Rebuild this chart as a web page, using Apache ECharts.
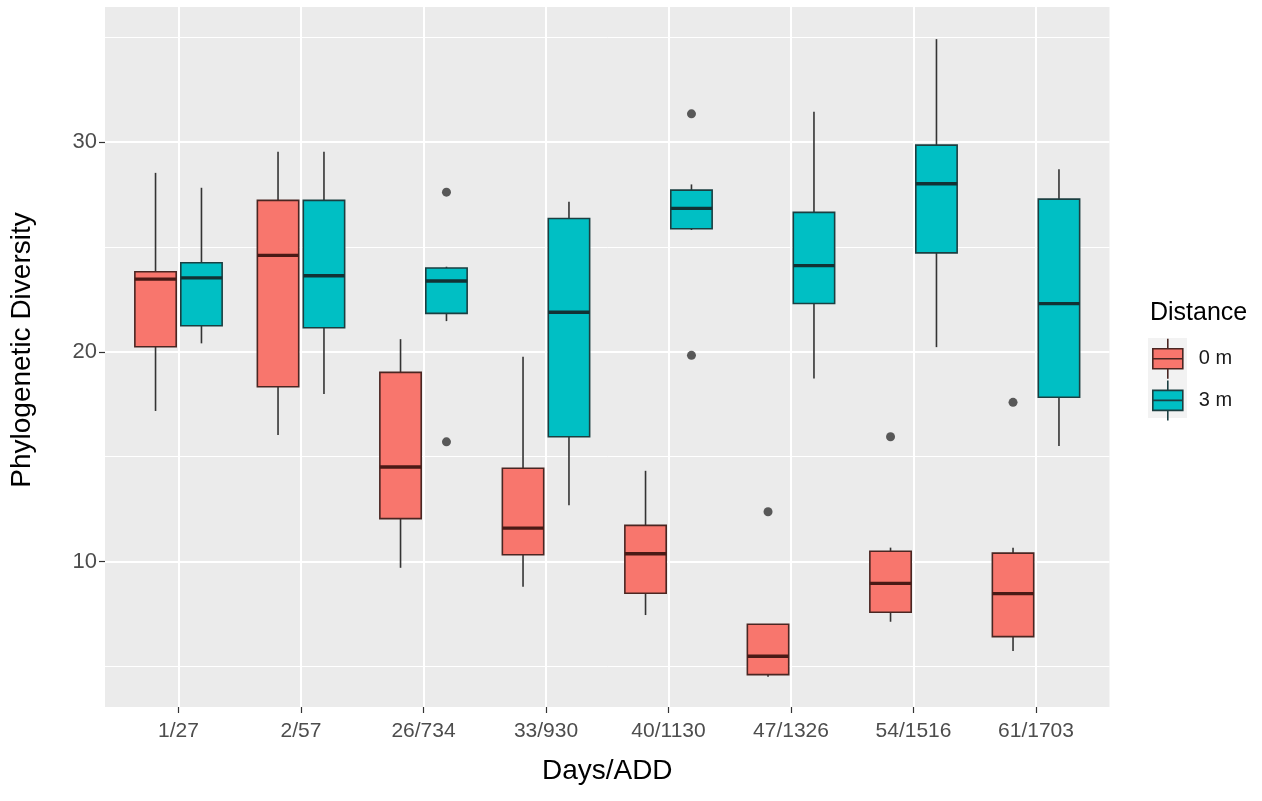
<!DOCTYPE html>
<html>
<head>
<meta charset="utf-8">
<script src="https://cdn.jsdelivr.net/npm/echarts@6/dist/echarts.min.js"></script>
<style>
html,body{margin:0;padding:0;background:#ffffff;}
#chart{width:1262px;height:801px;}
</style>
</head>
<body>
<div id="chart"></div>
<script>
// ---------- data ----------
const categories = ['1/27', '2/57', '26/734', '33/930', '40/1130', '47/1326', '54/1516', '61/1703'];
const seriesNames = ['0 m', '3 m'];
// each entry: [lower whisker, Q1, median, Q3, upper whisker]
const box0m = [
  [17.18, 20.24, 23.46, 23.81, 28.52],
  [16.03, 18.33, 24.59, 27.21, 29.52],
  [9.71, 12.05, 14.51, 19.02, 20.60],
  [8.81, 10.33, 11.60, 14.45, 19.76],
  [7.46, 8.50, 10.38, 11.73, 14.33],
  [4.52, 4.62, 5.50, 7.02, 7.02],
  [7.14, 7.59, 8.97, 10.50, 10.67],
  [5.75, 6.43, 8.48, 10.41, 10.67]
];
const box3m = [
  [20.40, 21.24, 23.52, 24.24, 27.81],
  [17.99, 21.14, 23.62, 27.21, 29.52],
  [21.46, 21.83, 23.37, 23.99, 24.05],
  [12.69, 15.95, 21.88, 26.35, 27.14],
  [25.80, 25.86, 26.83, 27.70, 27.97],
  [18.73, 22.30, 24.10, 26.64, 31.43],
  [20.22, 24.71, 28.00, 29.84, 34.89],
  [15.51, 17.83, 22.29, 27.27, 28.69]
];
// outliers: [category index, value]
const outliers0m = [[5, 12.38], [6, 15.95], [7, 17.59]];
const outliers3m = [[2, 27.60], [2, 15.71], [4, 31.33], [4, 19.83]];
const yMajorTicks = [10, 20, 30];
const yMinorTicks = [5, 15, 25, 35];
const yRange = [3.08, 36.42];

// ---------- styling / layout ----------
const FONT = '"Liberation Sans", Arial, Helvetica, sans-serif';
const fills = ['#F8766D', '#00BFC4'];
const strokes = ['#4a2622', '#1b3f41'];
const medians = ['#4a1a16', '#123234'];
const WHISKER = '#333333';
const DODGE = 0.1875;      // ggplot position_dodge(0.75) offset
const BOX_W = 0.3375;      // box width in category units
const catIdx = categories.map((c, i) => i);
const KEY_ICON = 'path://M15,0L15,10M0,10L30,10L30,30L0,30ZM0,20L30,20M15,30L15,40';

function makeRender(k) {
  return function (params, api) {
    const x = api.value(0);
    const lo = api.value(1), q1 = api.value(2), med = api.value(3), q3 = api.value(4), hi = api.value(5);
    const w = api.size([BOX_W, 0])[0];
    const pHi = api.coord([x, hi]);
    const pQ3 = api.coord([x, q3]);
    const pMed = api.coord([x, med]);
    const pQ1 = api.coord([x, q1]);
    const pLo = api.coord([x, lo]);
    const cx = pMed[0];
    return {
      type: 'group',
      children: [
        { type: 'line', shape: { x1: cx, y1: pHi[1], x2: cx, y2: pQ3[1] }, style: { stroke: WHISKER, lineWidth: 1.6 } },
        { type: 'line', shape: { x1: cx, y1: pQ1[1], x2: cx, y2: pLo[1] }, style: { stroke: WHISKER, lineWidth: 1.6 } },
        { type: 'rect', shape: { x: cx - w / 2, y: pQ3[1], width: w, height: pQ1[1] - pQ3[1] },
          style: { fill: fills[k], stroke: strokes[k], lineWidth: 1.6 } },
        { type: 'line', shape: { x1: cx - w / 2, y1: pMed[1], x2: cx + w / 2, y2: pMed[1] },
          style: { stroke: medians[k], lineWidth: 3.4 } }
      ]
    };
  };
}

const boxData = [box0m, box3m].map((arr, k) =>
  arr.map((b, i) => [i + (k === 0 ? -DODGE : DODGE)].concat(b)));
const outData = [outliers0m, outliers3m].map((arr, k) =>
  arr.map(o => [o[0] + (k === 0 ? -DODGE : DODGE), o[1]]));

const chart = echarts.init(document.getElementById('chart'), null, { renderer: 'canvas' });
chart.setOption({
  animation: false,
  backgroundColor: '#ffffff',
  textStyle: { fontFamily: FONT },
  grid: { left: 104, right: 152.5, top: 7, bottom: 94, show: true, backgroundColor: '#EBEBEB', borderWidth: 0 },
  title: {
    text: 'Distance', left: 1150, top: 301, padding: 0,
    textStyle: { fontSize: 25, fontWeight: 'normal', color: '#000000', fontFamily: FONT }
  },
  legend: {
    orient: 'vertical', left: 1152, top: 338, padding: 0,
    itemWidth: 30, itemHeight: 40, itemGap: 0,
    textStyle: { fontSize: 20, color: '#1a1a1a', fontFamily: FONT, padding: [0, 0, 0, 11] },
    data: seriesNames.map((n, k) => ({
      name: n, icon: KEY_ICON,
      itemStyle: { color: fills[k], borderColor: strokes[k], borderWidth: 1.6 }
    }))
  },
  graphic: [
    { type: 'rect', left: 1148, top: 338, shape: { width: 39, height: 40 }, style: { fill: '#F2F2F2' }, z: -10, silent: true },
    { type: 'rect', left: 1148, top: 378, shape: { width: 39, height: 40 }, style: { fill: '#F2F2F2' }, z: -10, silent: true }
  ],
  xAxis: [{
    type: 'value', min: -0.6, max: 7.6,
    axisLine: { show: false, onZero: false },
    axisTick: { show: true, customValues: catIdx, length: 6, lineStyle: { color: '#333333', width: 1.2 } },
    axisLabel: { customValues: catIdx, formatter: v => categories[Math.round(v)], margin: 14,
      fontSize: 21, color: '#4D4D4D', fontFamily: FONT },
    splitLine: { show: true, lineStyle: { color: '#ffffff', width: 2 } },
    name: 'Days/ADD', nameLocation: 'middle', nameGap: 50,
    nameTextStyle: { fontSize: 28, color: '#000000', fontFamily: FONT }
  }],
  yAxis: [{
    type: 'value', min: yRange[0], max: yRange[1], position: 'left',
    axisLine: { show: false, onZero: false },
    axisTick: { show: true, customValues: yMajorTicks, length: 6, lineStyle: { color: '#333333', width: 1.2 } },
    axisLabel: { customValues: yMajorTicks, margin: 8, fontSize: 22, color: '#4D4D4D', fontFamily: FONT },
    splitLine: { show: true, lineStyle: { color: '#ffffff', width: 2 } },
    name: 'Phylogenetic Diversity', nameLocation: 'middle', nameGap: 69,
    nameTextStyle: { fontSize: 28, color: '#000000', fontFamily: FONT, padding: [0, 0, 0, 14] }
  }, {
    type: 'value', min: yRange[0], max: yRange[1], position: 'left',
    axisLine: { show: false, onZero: false },
    axisTick: { show: false, customValues: yMinorTicks },
    axisLabel: { show: false, customValues: yMinorTicks },
    splitLine: { show: true, lineStyle: { color: '#ffffff', width: 1 } }
  }],
  series: [
    { name: seriesNames[0], type: 'custom', xAxisIndex: 0, yAxisIndex: 0,
      itemStyle: { color: fills[0] }, encode: { x: 0, y: [1, 2, 3, 4, 5] },
      renderItem: makeRender(0), data: boxData[0], z: 2 },
    { name: seriesNames[1], type: 'custom', xAxisIndex: 0, yAxisIndex: 0,
      itemStyle: { color: fills[1] }, encode: { x: 0, y: [1, 2, 3, 4, 5] },
      renderItem: makeRender(1), data: boxData[1], z: 2 },
    { name: 'outliers 0 m', type: 'scatter', xAxisIndex: 0, yAxisIndex: 0,
      symbolSize: 9, itemStyle: { color: '#333333' }, data: outData[0], z: 3 },
    { name: 'outliers 3 m', type: 'scatter', xAxisIndex: 0, yAxisIndex: 0,
      symbolSize: 9, itemStyle: { color: '#333333' }, data: outData[1], z: 3 }
  ]
});
</script>
</body>
</html>
